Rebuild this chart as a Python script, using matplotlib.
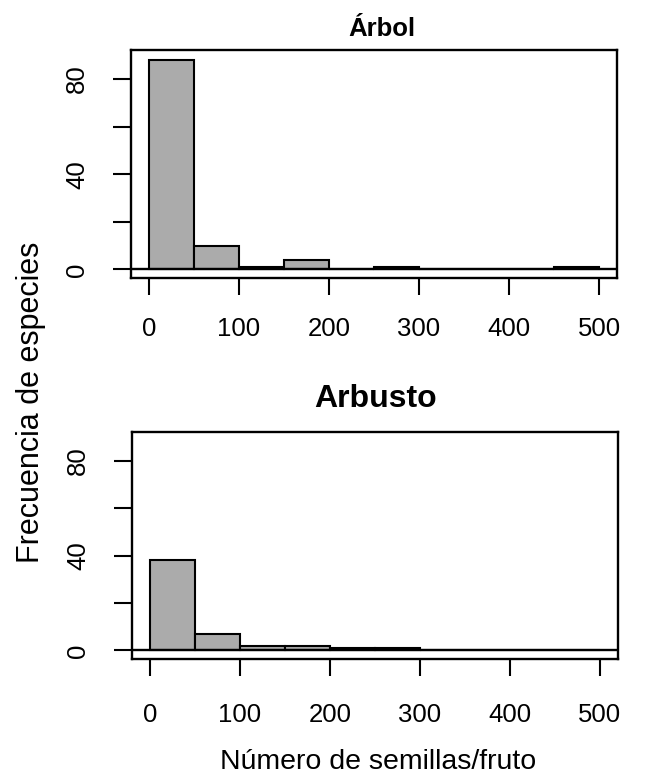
import matplotlib
matplotlib.use("Agg")
import matplotlib.pyplot as plt
import numpy as np

plt.rcParams['font.family'] = ['Liberation Sans', 'DejaVu Sans']

bin_edges = [0, 50, 100, 150, 200, 250, 300, 350, 400, 450, 500]
arbol_counts = [88, 10, 1, 4, 0, 1, 0, 0, 0, 1]
arbusto_counts = [38, 7, 2, 2, 1, 1, 0, 0, 0, 0]
x_ticks = [0, 100, 200, 300, 400, 500]
y_ticks = [0, 20, 40, 60, 80]
y_ticklabels = ['0', '', '40', '', '80']

fig = plt.figure(figsize=(6.49, 7.82), dpi=100)

ax1 = fig.add_axes([0.2018, 0.6445, 0.7489, 0.2916])
ax2 = fig.add_axes([0.2034, 0.1573, 0.7488, 0.2903])

def draw(ax, counts, xpad):
    lefts = bin_edges[:-1]
    widths = np.diff(bin_edges)
    ax.bar(lefts, counts, width=widths, align='edge', color='#ababab',
           edgecolor='black', linewidth=1.5, zorder=2)
    ax.axhline(0, color='black', linewidth=1.7, zorder=3)
    ax.set_xlim(-20, 520)
    ax.set_ylim(-3.6, 92.2)
    ax.set_xticks(x_ticks)
    ax.set_xticklabels([str(t) for t in x_ticks])
    ax.set_yticks(y_ticks)
    ax.set_yticklabels(y_ticklabels, rotation=90, va='center')
    for s in ax.spines.values():
        s.set_linewidth(1.7)
    ax.tick_params(axis='x', length=12, width=1.5, pad=xpad, labelsize=18.5)
    ax.tick_params(axis='y', length=13, width=1.5, pad=17, labelsize=18.5)

draw(ax1, arbol_counts, 16)
draw(ax2, arbusto_counts, 20)

fig.text(0.588, 1 - 29 / 782, 'Árbol', ha='center', va='center',
         fontsize=18.5, fontweight='bold')
fig.text(0.578, 1 - 399 / 782, 'Arbusto', ha='center', va='center',
         fontsize=23, fontweight='bold')
fig.text(31 / 649, 1 - 402 / 782, 'Frecuencia de especies', rotation=90,
         ha='center', va='center', fontsize=22)
fig.text(378 / 649, 1 - 762 / 782, 'Número de semillas/fruto',
         ha='center', va='center', fontsize=20.5)

fig.savefig('out.png', dpi=100)
